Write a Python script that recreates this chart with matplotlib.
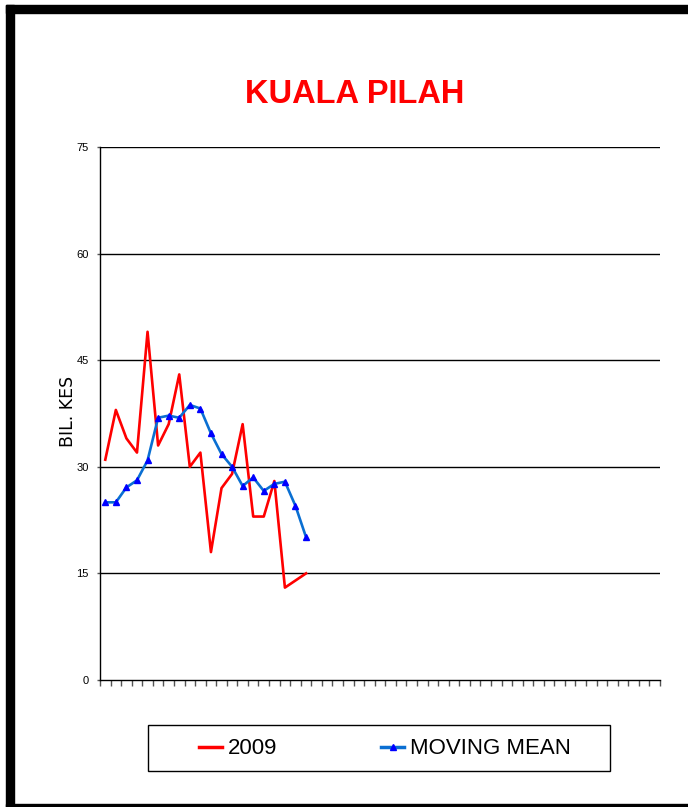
import matplotlib
matplotlib.use("Agg")
import matplotlib.pyplot as plt
from matplotlib.lines import Line2D
from matplotlib.patches import Rectangle
from matplotlib import font_manager

# ---------------- data ----------------
n_weeks = 53
weeks = list(range(1, 21))
cases_2009 = [31, 38, 34, 32, 49, 33, 36, 43, 30, 32, 18, 27, 29, 36, 23, 23, 28, 13, 14, 15]
moving_mean = [25.0, 25.0, 27.1, 28.1, 30.9, 36.9, 37.2, 36.9, 38.7, 38.2,
               34.7, 31.8, 30.0, 27.3, 28.5, 26.6, 27.6, 27.9, 24.5, 20.1]
y_ticks = [0, 15, 30, 45, 60, 75]
title = "KUALA PILAH"
ylabel = "BIL. KES"
legend_labels = ["2009", "MOVING MEAN"]

# ---------------- fonts ----------------
avail = {f.name for f in font_manager.fontManager.ttflist}
narrow = "Liberation Sans Narrow" if "Liberation Sans Narrow" in avail else "Liberation Sans"

W, H = 688, 807
fig = plt.figure(figsize=(W / 100, H / 100), dpi=100)
fig.patch.set_facecolor("white")

def fx(px):
    return px / W

def fy(py):
    return 1 - py / H

# frame bars
fig.patches.append(Rectangle((fx(6), fy(13)), fx(688) - fx(6), fy(5) - fy(13),
                             transform=fig.transFigure, color="black", zorder=0))
fig.patches.append(Rectangle((fx(6), fy(807)), fx(14) - fx(6), fy(5) - fy(807),
                             transform=fig.transFigure, color="black", zorder=0))
fig.patches.append(Rectangle((fx(6), fy(807)), fx(688) - fx(6), fy(804) - fy(807),
                             transform=fig.transFigure, color="black", zorder=0))

ax = fig.add_axes([fx(100), fy(680), fx(660) - fx(100), fy(147) - fy(680)])
ax.set_xlim(0.5, n_weeks + 0.5)
ax.set_ylim(0, 75)

for v in y_ticks[1:]:
    ax.axhline(v, color="black", lw=1.0, zorder=1)

ax.plot(weeks, cases_2009, color="#FF0000", lw=1.9, zorder=3)
ax.plot(weeks, moving_mean, color="#0A6FD2", lw=1.9, marker="^",
        markersize=5, markerfacecolor="#0000FF", markeredgecolor="#0000FF", zorder=4)

for s in ["top", "right"]:
    ax.spines[s].set_visible(False)
ax.spines["left"].set_color("black")
ax.spines["bottom"].set_color("black")
ax.spines["left"].set_linewidth(1.0)
ax.spines["bottom"].set_linewidth(1.0)

ax.set_xticks([0.5 + k for k in range(n_weeks + 1)])
ax.set_xticklabels([])
ax.tick_params(axis="x", direction="out", length=4, width=1, color="#555555")
ax.set_yticks(y_ticks)
ax.set_yticklabels([str(v) for v in y_ticks], fontfamily=narrow, fontsize=8)
ax.tick_params(axis="y", direction="out", length=2, width=1, color="#555555", pad=6)

fig.text(fx(68), fy(411), ylabel, rotation=90, ha="center", va="center",
         fontsize=12.5, family="DejaVu Sans", color="black")

fig.text(fx(355), fy(103), title, ha="center", va="baseline", color="#FF0000",
         fontsize=23.5, fontweight="bold", family=narrow)

# legend
fig.patches.append(Rectangle((fx(148), fy(771)), fx(610) - fx(148), fy(725) - fy(771),
                             transform=fig.transFigure, facecolor="white",
                             edgecolor="black", lw=1.0, zorder=1))
h1 = Line2D([], [], color="#FF0000", lw=2.5)
h2 = Line2D([], [], color="#0A6FD2", lw=2.5, marker="^", markersize=5,
            markerfacecolor="#0000FF", markeredgecolor="#0000FF")
leg = fig.legend([h1, h2], legend_labels, loc="center",
                 bbox_to_anchor=(fx(385), fy(749)), bbox_transform=fig.transFigure,
                 ncol=2, frameon=False, prop={"family": narrow, "size": 16},
                 handlelength=1.0, handletextpad=0.27, columnspacing=4.7)

fig.savefig("out.png", dpi=100, facecolor="white")
